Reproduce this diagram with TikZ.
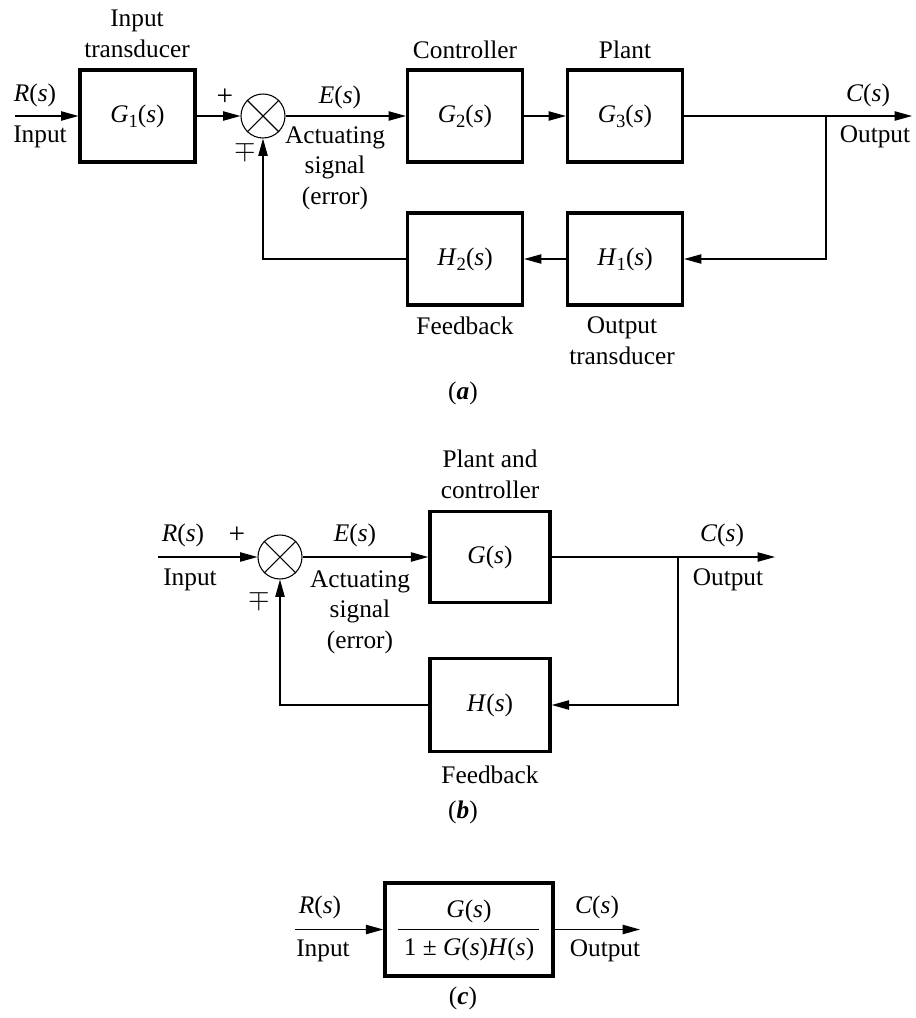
\documentclass[tikz,border=0pt]{standalone}
\usepackage{fontspec}
\setmainfont{Liberation Serif}
\usetikzlibrary{arrows.meta}

% signal names and transfer functions
\newcommand{\sig}[1]{\textit{#1}(\textit{s})}
\newcommand{\tfn}[2]{\textit{#1}\raisebox{-0.45ex}{\fontsize{14}{14}\selectfont #2}(\textit{s})}
\newcommand{\figlab}[1]{(\textbf{\textit{#1}})}

\tikzset{
  blk/.style={draw, line width=2.6pt, minimum width=86pt, minimum height=69pt, inner sep=0pt},
  sumj/.style={draw, circle, line width=0.8pt, minimum size=33pt, inner sep=0pt},
  sig/.style={line width=0.9pt, -{Triangle[length=13pt,width=7pt]}},
  wire/.style={line width=0.9pt},
  lbl/.style={inner sep=0pt, align=center},
  sgn/.style={inner sep=0pt, font=\fontsize{22}{22}\selectfont}
}

\begin{document}
\begin{tikzpicture}[x=0.75pt, y=-0.75pt,
  every node/.style={font=\fontsize{19}{23}\selectfont}]
\useasboundingbox (0,0) rectangle (915,1018);

% ---------------- (a) ----------------
\node[blk] (g1) at (137.5,116) {\tfn{G}{1}};
\node[sumj] (s1) at (263,116) {};
\draw[line width=0.8pt] (s1.north west) -- (s1.south east) (s1.north east) -- (s1.south west);
\node[blk] (g2) at (465,116) {\tfn{G}{2}};
\node[blk] (g3) at (625,116) {\tfn{G}{3}};
\node[blk] (h1) at (625,259) {\tfn{H}{1}};
\node[blk] (h2) at (465,259) {\tfn{H}{2}};
\coordinate (ain) at (15,116);
\coordinate (abr) at (826,116);
\coordinate (aout) at (912,116);

\draw[sig] (ain) -- (g1);
\draw[sig] (g1) -- (s1);
\draw[sig] (s1) -- (g2);
\draw[sig] (g2) -- (g3);
\draw[sig] (g3) -- (aout);
\draw[sig] (abr) |- (h1);
\draw[sig] (h1) -- (h2);
\draw[sig] (h2.west) -| (s1.south);

\node[lbl] (ar) at (35,95) {\sig{R}};
\node[lbl] (ai) at (40,137) {Input};
\node[lbl] (ait) at (137,34) {Input\\transducer};
\node[sgn] (ap) at (225,97) {+};
\node[sgn] (am) at (245,151) {$\mp$};
\node[lbl] (ae) at (340,97) {\sig{E}};
\node[lbl] (aact) at (335,168) {Actuating\\signal\\(error)};
\node[lbl] (actl) at (465,50) {Controller};
\node[lbl] (apl) at (625,50) {Plant};
\node[lbl] (ac) at (868,95) {\sig{C}};
\node[lbl] (ao) at (875,137) {Output};
\node[lbl] (afb) at (465,326) {Feedback};
\node[lbl] (aot) at (622,341) {Output\\transducer};
\node[lbl] (afa) at (463,393) {\figlab{a}};

% ---------------- (b) ----------------
\node[sumj] (s2) at (280,557) {};
\draw[line width=0.8pt] (s2.north west) -- (s2.south east) (s2.north east) -- (s2.south west);
\node[blk, minimum width=90pt, minimum height=68pt] (g) at (490,557) {\sig{G}};
\node[blk, minimum width=90pt, minimum height=70pt] (h) at (490,705) {\sig{H}};
\coordinate (bin) at (158,557);
\coordinate (bbr) at (678,557);
\coordinate (bout) at (775,557);

\draw[sig] (bin) -- (s2);
\draw[sig] (s2) -- (g);
\draw[sig] (g) -- (bout);
\draw[sig] (bbr) |- (h);
\draw[sig] (h.west) -| (s2.south);

\node[lbl] (br) at (183,535) {\sig{R}};
\node[lbl] (bi) at (190,580) {Input};
\node[sgn] (bp) at (237,535) {+};
\node[sgn] (bm) at (259,600) {$\mp$};
\node[lbl] (be) at (355,535) {\sig{E}};
\node[lbl] (bact) at (360,612) {Actuating\\signal\\(error)};
\node[lbl] (bpc) at (490,474) {Plant and\\controller};
\node[lbl] (bc) at (722,535) {\sig{C}};
\node[lbl] (bo) at (728,580) {Output};
\node[lbl] (bfb) at (490,775) {Feedback};
\node[lbl] (bfa) at (463,812) {\figlab{b}};

% ---------------- (c) ----------------
\node[blk, minimum width=126pt, minimum height=70pt] (cl) at (469,929.5) {};
\node[lbl] (cnum) at (469,911) {\sig{G}};
\node[lbl] (cden) at (469,949) {1 ± \sig{G}\sig{H}};
\draw[wire] (398,929.5) -- (539,929.5);
\coordinate (cin) at (295,929.5);
\coordinate (cout) at (640,929.5);
\draw[sig] (cin) -- (cl);
\draw[sig] (cl) -- (cout);

\node[lbl] (cr) at (320,907) {\sig{R}};
\node[lbl] (ci) at (323,951) {Input};
\node[lbl] (cc) at (597,907) {\sig{C}};
\node[lbl] (co) at (605,951) {Output};
\node[lbl] (cfa) at (463,998) {\figlab{c}};
\end{tikzpicture}
\end{document}
